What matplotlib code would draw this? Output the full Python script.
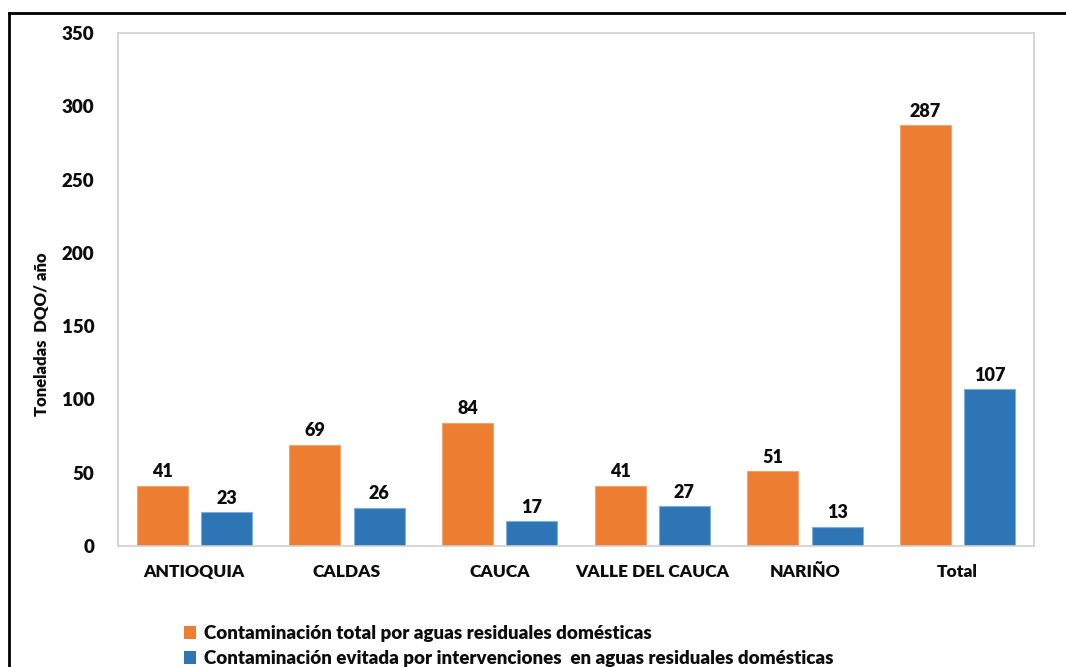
import matplotlib
matplotlib.use("Agg")
import matplotlib.pyplot as plt
from matplotlib.lines import Line2D
from matplotlib.patches import Patch
import numpy as np

categories = ["ANTIOQUIA", "CALDAS", "CAUCA", "VALLE DEL CAUCA", "NARIÑO", "Total"]
total_contamination = [41, 69, 84, 41, 51, 287]
avoided_contamination = [23, 26, 17, 27, 13, 107]
series_names = [
    "Contaminación total por aguas residuales domésticas",
    "Contaminación evitada por intervenciones  en aguas residuales domésticas",
]
y_ticks = [0, 50, 100, 150, 200, 250, 300, 350]
y_label = "Toneladas  DQO/ año"

ORANGE = "#ED7D31"
BLUE = "#2E75B6"
TEXT = "#0D0D0D"
WEIGHT = "heavy"

plt.rcParams["font.family"] = ["Lato", "DejaVu Sans"]
plt.rcParams["font.weight"] = "bold"

W, H = 1066, 667
fig = plt.figure(figsize=(W / 100, H / 100), dpi=100)
ax = fig.add_axes([118 / W, 1 - 546 / H, (1034 - 118) / W, (546 - 33) / H])

x = np.arange(len(categories))
bw = 0.334
off = 0.21
b1 = ax.bar(x - off, total_contamination, bw, color=ORANGE, edgecolor="#F4A46E", linewidth=0.8)
b2 = ax.bar(x + off, avoided_contamination, bw, color=BLUE, edgecolor="#7FAEDB", linewidth=0.8)

for bars, vals in ((b1, total_contamination), (b2, avoided_contamination)):
    for rect, v in zip(bars, vals):
        ax.annotate(f"{v}", (rect.get_x() + rect.get_width() / 2, v),
                    xytext=(0, 4), textcoords="offset points",
                    ha="center", va="bottom", fontsize=13, fontweight=WEIGHT, color=TEXT)

ax.set_xlim(-0.5, len(categories) - 0.5)
ax.set_ylim(0, 350)
ax.set_yticks(y_ticks)
ax.set_yticklabels([str(t) for t in y_ticks], fontsize=13.5, fontweight=WEIGHT, color=TEXT)
ax.set_xticks(x)
ax.set_xticklabels(categories, fontsize=12.5, fontweight=WEIGHT, color=TEXT)
ax.tick_params(axis="both", length=0)
ax.tick_params(axis="y", pad=17)
ax.tick_params(axis="x", pad=13)
for s in ax.spines.values():
    s.set_color("#D0D0D0")
    s.set_linewidth(1.2)

fig.text(42 / W, 1 - 334 / H, y_label, rotation=90, ha="center", va="center",
         fontsize=12, fontweight=WEIGHT, color=TEXT)

handles = [Patch(facecolor=ORANGE), Patch(facecolor=BLUE)]
leg = fig.legend(handles, series_names, loc="upper left", bbox_to_anchor=(184 / W, 1 - 625 / H),
                 frameon=False, handlelength=0.65, handleheight=0.65,
                 handletextpad=0.4, labelspacing=0.42, borderpad=0, borderaxespad=0,
                 prop={"size": 13.5, "weight": WEIGHT})
for t in leg.get_texts():
    t.set_color(TEXT)

# outer frame (left and top edges)
fig.add_artist(Line2D([9 / W, 9 / W], [0, 1 - 13 / H], transform=fig.transFigure,
                      color="black", linewidth=2))
fig.add_artist(Line2D([9 / W, 1], [1 - 13 / H, 1 - 13 / H], transform=fig.transFigure,
                      color="black", linewidth=2))

fig.savefig("out.png", dpi=100, facecolor="white")
